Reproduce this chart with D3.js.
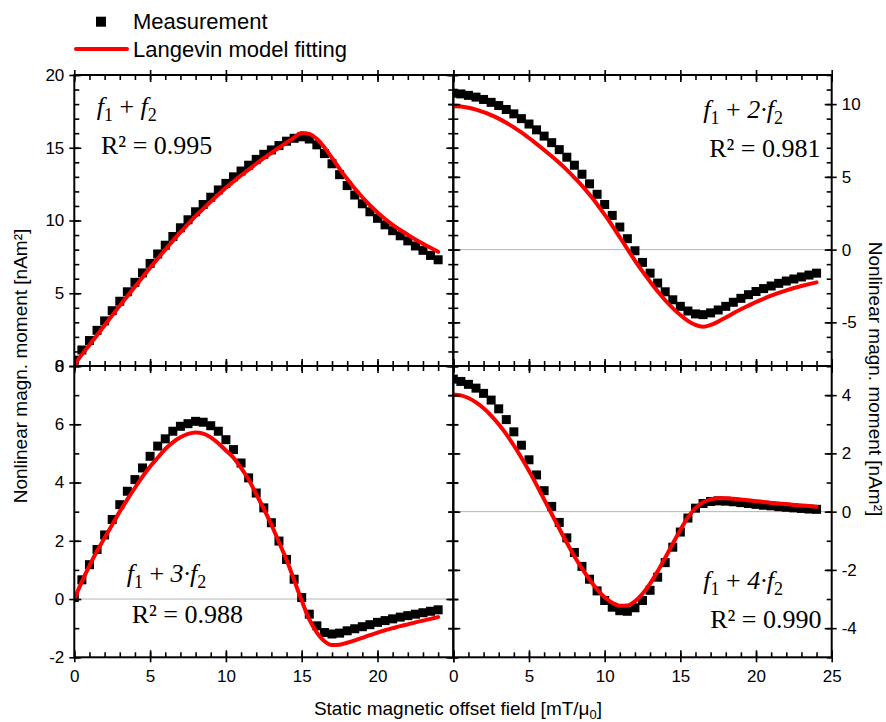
<!DOCTYPE html>
<html><head><meta charset="utf-8">
<script src="https://cdn.jsdelivr.net/npm/d3@7"></script>
<style>body{margin:0;background:#fff} svg{display:block}</style>
</head><body><svg id="c" width="886" height="722"></svg>
<script>
// ---------- data ----------
const fieldX = [0,0.5,1,1.5,2,2.5,3,3.5,4,4.5,5,5.5,6,6.5,7,7.5,8,8.5,9,9.5,10,10.5,11,11.5,12,12.5,13,13.5,14,14.5,15,15.5,16,16.5,17,17.5,18,18.5,19,19.5,20,20.5,21,21.5,22,22.5,23,23.5,24];

const measH1 = [0.4,1.1,1.75,2.45,3.1,3.8,4.45,5.1,5.75,6.4,7.05,7.7,8.3,8.9,9.5,10.05,10.6,11.1,11.6,12.1,12.55,13.0,13.4,13.8,14.2,14.55,14.85,15.15,15.45,15.65,15.75,15.6,15.2,14.6,13.9,13.15,12.4,11.75,11.15,10.6,10.15,9.7,9.3,8.95,8.6,8.25,7.95,7.6,7.3];
const fitH1 = [0.1,0.78,1.45,2.12,2.8,3.48,4.15,4.8,5.45,6.1,6.75,7.38,8.0,8.6,9.2,9.75,10.3,10.8,11.3,11.78,12.25,12.68,13.1,13.5,13.9,14.28,14.65,15.0,15.35,15.7,16.02,15.95,15.6,15.02,14.3,13.55,12.85,12.2,11.6,11.05,10.55,10.1,9.7,9.35,9.02,8.7,8.4,8.12,7.85];

const measH2 = [10.75,10.7,10.6,10.48,10.32,10.12,9.9,9.63,9.33,9.0,8.63,8.23,7.8,7.35,6.87,6.35,5.8,5.18,4.52,3.8,3.1,2.35,1.55,0.75,-0.08,-0.88,-1.62,-2.3,-2.9,-3.45,-3.9,-4.22,-4.42,-4.47,-4.35,-4.15,-3.9,-3.62,-3.35,-3.1,-2.88,-2.68,-2.5,-2.32,-2.16,-2.02,-1.88,-1.75,-1.62];
const fitH2 = [9.85,9.83,9.75,9.62,9.45,9.24,9.0,8.72,8.4,8.05,7.67,7.27,6.85,6.42,5.97,5.48,4.95,4.4,3.78,3.12,2.4,1.65,0.85,0.05,-0.75,-1.5,-2.2,-2.87,-3.48,-4.02,-4.5,-4.9,-5.18,-5.3,-5.18,-4.95,-4.67,-4.38,-4.1,-3.85,-3.6,-3.38,-3.16,-2.97,-2.8,-2.64,-2.5,-2.37,-2.25];

const measH3 = [0.05,0.66,1.18,1.7,2.2,2.73,3.24,3.7,4.1,4.5,4.9,5.25,5.5,5.76,5.93,6.02,6.1,6.07,5.95,5.76,5.47,5.13,4.67,4.16,3.64,3.13,2.62,1.99,1.36,0.68,0.05,-0.52,-0.92,-1.15,-1.2,-1.17,-1.09,-1.02,-0.95,-0.88,-0.8,-0.74,-0.68,-0.62,-0.57,-0.52,-0.47,-0.42,-0.37];
const fitH3 = [0,0.6,1.15,1.65,2.1,2.55,3.0,3.42,3.82,4.2,4.55,4.85,5.15,5.38,5.55,5.67,5.72,5.68,5.55,5.35,5.1,4.85,4.5,4.1,3.6,3.1,2.55,1.95,1.35,0.65,-0.05,-0.7,-1.15,-1.45,-1.58,-1.57,-1.5,-1.42,-1.33,-1.24,-1.15,-1.07,-1.0,-0.93,-0.87,-0.8,-0.74,-0.68,-0.62];

const measH4 = [4.55,4.47,4.37,4.24,4.06,3.83,3.53,3.16,2.74,2.28,1.78,1.26,0.72,0.18,-0.37,-0.9,-1.4,-1.88,-2.32,-2.72,-3.05,-3.28,-3.4,-3.42,-3.3,-3.05,-2.7,-2.25,-1.75,-1.22,-0.7,-0.22,0.12,0.28,0.35,0.37,0.36,0.34,0.31,0.28,0.25,0.22,0.2,0.17,0.15,0.13,0.11,0.09,0.08];
const fitH4 = [4.02,3.99,3.9,3.75,3.55,3.3,3.0,2.66,2.27,1.85,1.4,0.92,0.42,-0.08,-0.58,-1.07,-1.53,-1.95,-2.33,-2.67,-2.94,-3.13,-3.23,-3.22,-3.08,-2.82,-2.47,-2.05,-1.58,-1.1,-0.63,-0.2,0.12,0.32,0.42,0.46,0.46,0.44,0.42,0.39,0.36,0.33,0.3,0.28,0.26,0.23,0.21,0.19,0.17];

const xDomain = [0, 25];
const yDomains = [[0, 20], [-8, 12], [-2, 8], [-5, 5]];
const yMajorSteps = [5, 5, 2, 2];
const harmonicLabels = ["", "2·", "3·", "4·"];
const rSquared = ["0.995", "0.981", "0.988", "0.990"];
const xTickLabelsLeft = [0, 5, 10, 15, 20];
const xTickLabelsRight = [0, 5, 10, 15, 20, 25];
const yTickLabels = [[0, 5, 10, 15, 20], [-5, 0, 5, 10], [-2, 0, 2, 4, 6, 8], [-4, -2, 0, 2, 4]];
const legendLabels = ["Measurement", "Langevin model fitting"];
const yTitle = "Nonlinear magn. moment [nAm²]";

// ---------- layout ----------
const svg = d3.select("#c");
const XL = 74.3, XM = 453.3, XR = 831.7;
const YT = 75, YM = 366, YB = 657.3;
const FONT = "'Liberation Sans', Arial, sans-serif";
const SERIF = "'Liberation Serif', 'Times New Roman', serif";
const RED = "#ff0000";

const boxes = [
  {x0: XL, x1: XM, y0: YT, y1: YM, side: "left", bottom: false},
  {x0: XM, x1: XR, y0: YT, y1: YM, side: "right", bottom: false},
  {x0: XL, x1: XM, y0: YM, y1: YB, side: "left", bottom: true},
  {x0: XM, x1: XR, y0: YM, y1: YB, side: "right", bottom: true}
];
const measures = [measH1, measH2, measH3, measH4];
const fits = [fitH1, fitH2, fitH3, fitH4];

const defs = svg.append("defs");

boxes.forEach((b, i) => {
  const x = d3.scaleLinear().domain(xDomain).range([b.x0, b.x1]);
  const y = d3.scaleLinear().domain(yDomains[i]).range([b.y1, b.y0]);
  const g = svg.append("g");

  defs.append("clipPath").attr("id", "clip" + i)
    .append("rect").attr("x", b.x0).attr("y", b.y0)
    .attr("width", b.x1 - b.x0).attr("height", b.y1 - b.y0);

  if (yDomains[i][0] < 0) {
    g.append("line").attr("x1", b.x0).attr("x2", b.x1)
      .attr("y1", y(0)).attr("y2", y(0))
      .attr("stroke", "#b4b4b4").attr("stroke-width", 1);
  }

  const plot = g.append("g").attr("clip-path", `url(#clip${i})`);
  const s = 9;
  plot.selectAll("rect.m").data(fieldX.map((v, k) => [v, measures[i][k]]))
    .join("rect").attr("class", "m")
    .attr("x", d => x(d[0]) - s / 2).attr("y", d => y(d[1]) - s / 2)
    .attr("width", s).attr("height", s).attr("fill", "#000");

  const line = d3.line().x(d => x(d[0])).y(d => y(d[1])).curve(d3.curveMonotoneX);
  plot.append("path").datum(fieldX.map((v, k) => [v, fits[i][k]]))
    .attr("d", line).attr("fill", "none").attr("stroke", RED)
    .attr("stroke-width", 4).attr("stroke-linejoin", "round").attr("stroke-linecap", "round");

  const xMinor = d3.range(xDomain[0], xDomain[1] + 0.01, 1);
  const xMajor = d3.range(xDomain[0], xDomain[1] + 0.01, 5);
  const yMinor = d3.range(yDomains[i][0], yDomains[i][1] + 0.01, 1);
  const yMajor = yMinor.filter(v => Math.abs(v % yMajorSteps[i]) < 1e-9);

  function axisGroup(ax, tx, ty) {
    const a = g.append("g").attr("transform", `translate(${tx},${ty})`).call(ax);
    a.select(".domain").remove();
    a.selectAll("line").attr("stroke", "#000").attr("stroke-width", 1.6);
    return a;
  }
  const noLab = () => "";
  axisGroup(d3.axisTop(x).tickValues(xMinor).tickSize(5).tickSizeOuter(0).tickFormat(noLab), 0, b.y1);
  axisGroup(d3.axisBottom(x).tickValues(xMinor).tickSize(5).tickSizeOuter(0).tickFormat(noLab), 0, b.y0);
  axisGroup(d3.axisRight(y).tickValues(yMinor).tickSize(5).tickSizeOuter(0).tickFormat(noLab), b.x0, 0);
  axisGroup(d3.axisLeft(y).tickValues(yMinor).tickSize(5).tickSizeOuter(0).tickFormat(noLab), b.x1, 0);
  axisGroup(d3.axisTop(x).tickValues(xMajor).tickSize(7).tickSizeOuter(0).tickFormat(noLab), 0, b.y1);
  axisGroup(d3.axisBottom(x).tickValues(xMajor).tickSize(7).tickSizeOuter(0).tickFormat(noLab), 0, b.y0);
  axisGroup(d3.axisRight(y).tickValues(yMajor).tickSize(7).tickSizeOuter(0).tickFormat(noLab), b.x0, 0);
  axisGroup(d3.axisLeft(y).tickValues(yMajor).tickSize(7).tickSizeOuter(0).tickFormat(noLab), b.x1, 0);
  axisGroup(d3.axisBottom(x).tickValues(xMajor).tickSize(5).tickSizeOuter(0).tickFormat(noLab), 0, b.y1);
  axisGroup(d3.axisTop(x).tickValues(xMajor).tickSize(5).tickSizeOuter(0).tickFormat(noLab), 0, b.y0);
  axisGroup(d3.axisLeft(y).tickValues(yMajor).tickSize(5).tickSizeOuter(0).tickFormat(noLab), b.x0, 0);
  axisGroup(d3.axisRight(y).tickValues(yMajor).tickSize(5).tickSizeOuter(0).tickFormat(noLab), b.x1, 0);

  const fmt = d => String(d);
  if (b.side === "left") {
    const a = axisGroup(d3.axisLeft(y).tickValues(yTickLabels[i]).tickSize(0).tickPadding(10).tickFormat(fmt), b.x0, 0);
    a.selectAll("text").attr("font-family", FONT).attr("font-size", 17).attr("fill", "#000");
  } else {
    const a = axisGroup(d3.axisRight(y).tickValues(yTickLabels[i]).tickSize(0).tickPadding(10).tickFormat(fmt), b.x1, 0);
    a.selectAll("text").attr("font-family", FONT).attr("font-size", 17).attr("fill", "#000");
  }
  if (b.bottom) {
    const vals = b.side === "left" ? xTickLabelsLeft : xTickLabelsRight;
    const a = axisGroup(d3.axisBottom(x).tickValues(vals).tickSize(0).tickPadding(13).tickFormat(fmt), 0, b.y1);
    a.selectAll("text").attr("font-family", FONT).attr("font-size", 17).attr("fill", "#000");
  }

  g.append("rect").attr("x", b.x0).attr("y", b.y0)
    .attr("width", b.x1 - b.x0).attr("height", b.y1 - b.y0)
    .attr("fill", "none").attr("stroke", "#000").attr("stroke-width", 2);
});

// ---------- annotations ----------
const annot = [
  {fx: 96.7, fy: 115, rx: 101, ry: 154, anchor: "start"},
  {fx: 703.3, fy: 118, rx: 820.5, ry: 156.5, anchor: "end"},
  {fx: 126.7, fy: 582, rx: 131.7, ry: 622.5, anchor: "start"},
  {fx: 703.3, fy: 589, rx: 821.5, ry: 628, anchor: "end"}
];
annot.forEach((a, i) => {
  const t = svg.append("text").attr("x", a.fx).attr("y", a.fy)
    .attr("font-family", SERIF).attr("font-size", 26).attr("fill", "#000");
  t.append("tspan").attr("font-style", "italic").text("f");
  t.append("tspan").attr("font-size", 18).attr("dy", 6).text("1");
  t.append("tspan").attr("dy", -6).text(" + ");
  t.append("tspan").attr("font-style", "italic").text(harmonicLabels[i] + "f");
  t.append("tspan").attr("font-size", 18).attr("dy", 6).text("2");
  svg.append("text").attr("x", a.rx).attr("y", a.ry).attr("text-anchor", a.anchor)
    .attr("font-family", SERIF).attr("font-size", 26).attr("fill", "#000")
    .text("R² = " + rSquared[i]);
});

// ---------- legend ----------
svg.append("rect").attr("x", 96).attr("y", 16.7).attr("width", 10).attr("height", 10).attr("fill", "#000");
svg.append("text").attr("x", 133).attr("y", 29).attr("font-family", FONT).attr("font-size", 22).text(legendLabels[0]);
svg.append("line").attr("x1", 76).attr("x2", 127).attr("y1", 49).attr("y2", 49)
  .attr("stroke", RED).attr("stroke-width", 4).attr("stroke-linecap", "round");
svg.append("text").attr("x", 133).attr("y", 57).attr("font-family", FONT).attr("font-size", 22).text(legendLabels[1]);

// ---------- axis titles ----------
svg.append("text").attr("transform", "translate(27,366) rotate(-90)").attr("text-anchor", "middle")
  .attr("font-family", FONT).attr("font-size", 19).text(yTitle);
svg.append("text").attr("transform", "translate(869,379) rotate(90)").attr("text-anchor", "middle")
  .attr("font-family", FONT).attr("font-size", 19).text(yTitle);
const xt = svg.append("text").attr("x", 458).attr("y", 715).attr("text-anchor", "middle")
  .attr("font-family", FONT).attr("font-size", 19);
xt.append("tspan").text("Static magnetic offset field [mT/μ");
xt.append("tspan").attr("font-size", 13).attr("dy", 4).text("0");
xt.append("tspan").attr("dy", -4).text("]");
</script></body></html>
